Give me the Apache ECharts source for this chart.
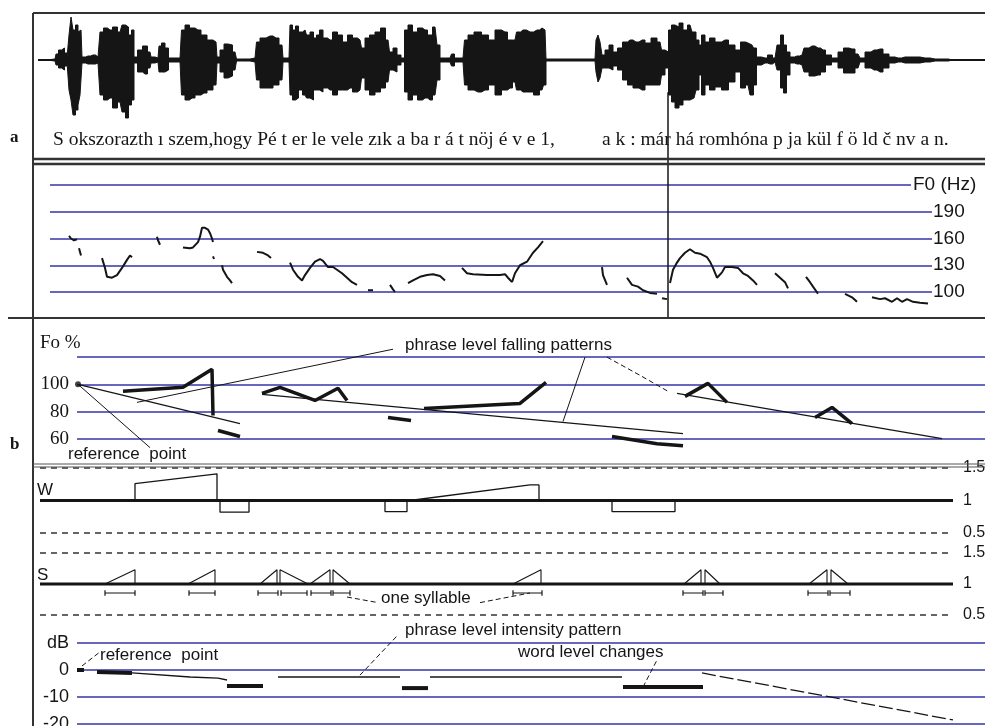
<!DOCTYPE html>
<html>
<head>
<meta charset="utf-8">
<script src="https://cdn.jsdelivr.net/npm/echarts@6/dist/echarts.min.js"></script>
<style>
html, body { margin: 0; padding: 0; background: #fff; }
#chart { width: 985px; height: 726px; }
</style>
</head>
<body>
<div id="chart"></div>
<script>
// time axis is in arbitrary units along the utterance (same scale for every panel)

// waveform envelope: [time, upper amplitude, lower amplitude]
var waveEnvelope = [
  [38,0,0],[55,1,1],[57,6,5],[60,10,8],[63,12,10],[66,7,6],[68,2,2],[70,25,30],[72,43,40],[74,30,55],
  [77,35,50],[79,28,45],[81,30,35],[83,3,3],[88,4,4],[93,5,4],[98,3,3],[102,28,35],[105,32,40],[110,30,38],
  [115,33,48],[120,28,42],[124,35,52],[127,33,58],[130,25,45],[133,30,40],[135,3,3],[140,10,12],[145,14,14],[150,8,8],
  [152,3,3],[158,2,2],[160,14,12],[163,17,12],[167,12,10],[170,2,2],[180,2,2],[183,30,35],[187,35,40],[192,32,38],
  [198,30,35],[204,25,33],[210,20,30],[216,18,25],[218,3,3],[222,10,12],[226,16,18],[230,15,16],[235,8,10],[238,1,1],
  [245,1,1],[255,2,2],[258,18,20],[262,22,28],[270,24,28],[276,22,25],[282,15,20],[284,2,2],[289,2,2],[291,35,35],
  [294,30,40],[297,34,38],[300,28,30],[305,30,35],[308,25,38],[312,28,40],[315,22,30],[318,25,30],[321,30,32],[325,22,28],
  [330,20,30],[335,28,35],[340,25,30],[345,18,30],[350,25,28],[355,22,32],[360,20,30],[363,12,18],[367,22,30],[372,25,35],
  [378,28,32],[383,32,28],[388,20,22],[391,8,10],[395,12,12],[399,5,5],[403,2,2],[406,30,32],[410,35,40],[415,28,35],
  [420,32,40],[425,30,38],[430,25,40],[435,33,35],[439,15,20],[441,2,2],[450,2,2],[453,6,6],[456,2,2],[463,2,2],
  [466,20,25],[470,25,30],[478,28,32],[485,25,30],[492,20,25],[498,30,35],[505,28,30],[510,20,28],[515,20,22],[518,28,30],
  [523,30,32],[530,28,32],[537,30,35],[542,32,30],[545,30,25],[547,1,1],[595,1,1],[597,20,12],[599,25,22],[601,18,18],
  [603,5,8],[607,10,8],[611,15,10],[615,8,6],[620,12,10],[625,18,20],[630,20,25],[636,18,28],[642,20,30],[648,17,25],
  [654,22,25],[660,18,25],[663,10,15],[667,8,8],[670,30,35],[673,35,42],[677,33,48],[681,37,45],[685,30,40],[690,35,40],
  [694,28,38],[698,20,30],[700,15,15],[703,25,35],[707,18,25],[712,22,30],[718,18,27],[725,20,30],[732,15,22],[738,10,12],
  [743,18,28],[748,17,25],[752,15,35],[755,12,25],[758,3,5],[765,2,3],[770,5,4],[775,2,2],[779,15,10],[782,25,28],
  [785,15,33],[788,8,15],[792,3,3],[797,4,4],[802,5,5],[806,12,12],[812,14,16],[818,12,15],[823,10,12],[828,5,5],
  [835,2,2],[841,8,8],[846,12,13],[852,11,13],[858,6,8],[862,2,2],[868,8,8],[874,10,10],[880,11,12],[886,6,8],
  [892,3,3],[898,2,2],[905,3,3],[915,3,3],[925,2,2],[935,1,1],[945,1,1],[952,0,0],[985,0,0]
];

var transcript1 = 'S okszorazth ı szem,hogy Pé t er le vele zık a ba r á t nöj é v e 1,';
var transcript2 = 'a k : már há romhóna p ja kül f ö ld č nv a n.';

// F0 contour (Hz), voiced stretches
var f0Ticks = [100, 130, 160, 190, 220];
var f0Segments = [
  [[69,163],[71,160],[74,158],[77,159]],
  [[79,149],[81,141]],
  [[102,138],[105,127],[107,117],[112,116],[117,119],[122,127],[127,136],[130,141],[132,139]],
  [[157,162],[158,158],[160,153]],
  [[183,150],[190,149],[193,150],[198,156],[200,162],[202,172],[205,172],[208,170],[210,166],[212,160],[213,156]],
  [[213,140],[214,137]],
  [[222,130],[223,125],[227,117],[230,113],[232,110]],
  [[257,145],[263,144],[268,141],[271,138]],
  [[290,133],[293,125],[298,117],[302,113],[305,119],[310,127],[315,134],[320,137],[323,135],[328,128],[333,128],[337,125],[342,121],[347,116],[352,111],[357,108]],
  [[368,102],[373,102]],
  [[390,108],[393,103],[395,100]],
  [[408,110],[413,113],[420,117],[427,119],[433,120],[440,118],[445,113]],
  [[462,127],[467,121],[473,120],[487,119],[500,119],[505,120],[508,116],[512,111]],
  [[512,111],[515,121],[520,130],[527,134],[533,144],[538,150],[543,157]],
  [[602,128],[603,119],[607,108]],
  [[627,116],[632,108],[638,106],[643,102],[650,99],[657,98]],
  [[662,93],[667,92]],
  [[670,110],[673,125],[677,133],[680,138],[685,144],[690,148],[695,144],[700,143],[707,139],[710,134],[713,127],[717,116],[722,122],[725,128],[732,128],[738,127],[743,121],[748,118],[753,113],[757,108]],
  [[775,121],[780,116],[785,111],[788,104]],
  [[806,117],[810,111],[813,106],[818,98]],
  [[845,98],[852,94],[857,89]],
  [[872,94],[880,92],[885,93],[892,89],[897,93],[902,89],[907,92],[913,89],[920,88],[928,87]]
];
var f0Arrows = [[222, 71, 111], [392, 71, 94], [651, 71, 91]];
var boundary = [[668, 324], [668, 71]];

// Fo % panel
var foTicks = [60, 80, 100, 120];
var foReference = [78, 100];
var foWordLevel = [
  [[123,94.9],[183,97.8],[212,111],[213,77.2]],
  [[218,66.2],[240,61.8]],
  [[262,93.4],[280,97.8],[315,88.2],[338,97.1],[347,88.2]],
  [[388,75.7],[411,73.5]],
  [[424,82.4],[500,85.3],[520,86],[546,101.5]],
  [[612,61.8],[657,56.6],[683,55.1]],
  [[685,91.2],[708,100.7],[727,86.8]],
  [[815,75.7],[832,83.1],[852,71.3]]
];
var foPhraseLevel = [
  [[78,100],[240,71.3]],
  [[262,92.6],[683,64]],
  [[677,93.4],[942,60.3]]
];
var foLeaders = [
  [[78,100],[150,53.7]],
  [[137,86.8],[393,125.7]],
  [[585,119.9],[563,72.8]],
  [[607,119.9],[640,106.6],[668,94.9]]
];

// W (word) and S (syllable) weight panels
var weightTicks = [0.5, 1, 1.5];
var wShapes = [
  [[135,1],[135,1.26],[217,1.41],[217,1]],
  [[220,1],[220,0.82],[249,0.82],[249,1]],
  [[385,1],[385,0.83],[407,0.83],[407,1]],
  [[410,1],[412,1.03],[530,1.24],[539,1.24],[539,1]],
  [[612,1],[612,0.83],[675,0.83],[675,1]]
];
var sRises = [[105,135],[188,215],[260,277],[310,330],[513,541],[684,701],[809,827]];
var sFalls = [[280,308],[333,350],[705,720],[831,848]];
var sPeak = 1.23;
var syllables = [[105,135],[189,215],[258,278],[281,307],[311,331],[333,350],[513,542],[683,703],[705,723],[808,828],[830,850]];
var sLeaders = [
  [[347,0.79],[378,0.7]],
  [[480,0.7],[530,0.855]]
];

// dB panel
var dbTicks = [-20, -10, 0, 10];
var dbWordLevel = [
  [[77,0],[84,0]],
  [[97,-0.7],[132,-1.1]],
  [[227,-5.9],[263,-5.9]],
  [[402,-6.7],[428,-6.7]],
  [[623,-6.3],[703,-6.3]]
];
var dbPhraseLevel = [
  [[132,-1.1],[190,-2.6],[218,-3.0],[227,-3.7]],
  [[278,-2.6],[400,-2.6]],
  [[430,-2.6],[622,-2.6]],
  [[702,-1.1],[953,-18.5]]
];
var dbLeaders = [
  [[82,1.5],[100,6.7]],
  [[360,-1.9],[398,13]],
  [[643,-6.3],[657,3.7]]
];

var BLUE = '#3535a8';
var INK = '#151515';
var SANS = '"Liberation Sans", Arial, sans-serif';
var SERIF = '"Liberation Serif", "Times New Roman", serif';

var myChart = echarts.init(document.getElementById('chart'));

// panel layout (x range, vertical extent, y scale)
var panels = [
  { x0: 38, x1: 985, top: 13,  bottom: 120, min: -60, max: 47 },
  { x0: 50, x1: 932, top: 185, bottom: 292, min: 100, max: 220, interval: 30 },
  { x0: 77, x1: 985, top: 357, bottom: 439, min: 60,  max: 120, interval: 20 },
  { x0: 40, x1: 953, top: 468, bottom: 533, min: 0.5, max: 1.5, interval: 0.5 },
  { x0: 40, x1: 953, top: 553, bottom: 615, min: 0.5, max: 1.5, interval: 0.5 },
  { x0: 77, x1: 985, top: 643, bottom: 724, min: -20, max: 10,  interval: 10 }
];

var grids = panels.map(function (p) {
  return { left: p.x0, top: p.top, width: p.x1 - p.x0, height: p.bottom - p.top, outerBoundsMode: 'none' };
});
var xAxes = panels.map(function (p, i) {
  return { type: 'value', gridIndex: i, min: p.x0, max: p.x1, show: false };
});

function labelStyle(font, size, margin, formatter) {
  return { show: true, margin: margin, fontFamily: font, fontSize: size, color: INK, formatter: formatter };
}
var noLine = { show: false };
var yAxes = [
  { type: 'value', gridIndex: 0, min: -60, max: 47, show: false },
  { type: 'value', gridIndex: 1, min: 100, max: 220, interval: 30, position: 'right',
    axisLine: noLine, axisTick: noLine,
    splitLine: { lineStyle: { color: BLUE, width: 1.5 } },
    axisLabel: labelStyle(SANS, 19, 1, function (v) { return v === f0Ticks[4] ? '' : String(v); }) },
  { type: 'value', gridIndex: 2, min: 60, max: 120, interval: 20, position: 'left',
    axisLine: noLine, axisTick: noLine,
    splitLine: { lineStyle: { color: BLUE, width: 1.5 } },
    axisLabel: labelStyle(SERIF, 19, 8, function (v) { return v === foTicks[3] ? '' : String(v); }) },
  { type: 'value', gridIndex: 3, min: 0.5, max: 1.5, interval: 0.5, position: 'right',
    axisLine: noLine, axisTick: noLine,
    splitLine: { lineStyle: { color: '#333', width: 1.5, type: [6, 5] } },
    axisLabel: labelStyle(SANS, 16, 10, function (v) { return String(v); }) },
  { type: 'value', gridIndex: 4, min: 0.5, max: 1.5, interval: 0.5, position: 'right',
    axisLine: noLine, axisTick: noLine,
    splitLine: { lineStyle: { color: '#333', width: 1.5, type: [6, 5] } },
    axisLabel: labelStyle(SANS, 16, 10, function (v) { return String(v); }) },
  { type: 'value', gridIndex: 5, min: -20, max: 10, interval: 10, position: 'left',
    axisLine: noLine, axisTick: noLine,
    splitLine: { lineStyle: { color: BLUE, width: 1.5 } },
    axisLabel: labelStyle(SANS, 18, 8, function (v) { return v === dbTicks[3] ? 'dB' : String(v); }) }
];

var series = [];

function poly(idx, pts, width, color, type) {
  series.push({
    type: 'line', xAxisIndex: idx, yAxisIndex: idx, data: pts,
    symbol: 'none', silent: true, clip: false, z: 3,
    lineStyle: { width: width, color: color || INK, type: type || 'solid', cap: 'butt' }
  });
}

// waveform (stepped envelope, like the sampled display)
series.push({
  type: 'line', xAxisIndex: 0, yAxisIndex: 0, symbol: 'none', silent: true, z: 3, step: 'middle',
  data: waveEnvelope.map(function (d) { return [d[0], d[1]]; }),
  lineStyle: { width: 1, color: INK }, areaStyle: { color: INK, opacity: 1 }
});
series.push({
  type: 'line', xAxisIndex: 0, yAxisIndex: 0, symbol: 'none', silent: true, z: 3, step: 'middle',
  data: waveEnvelope.map(function (d) { return [d[0], -d[2]]; }),
  lineStyle: { width: 1, color: INK }, areaStyle: { color: INK, opacity: 1 }
});
poly(0, [[38, 0], [985, 0]], 2, INK);

// F0 track
f0Segments.forEach(function (s) { poly(1, s, 2, INK, 'solid'); });
poly(1, boundary, 1.5, INK);
series.push({
  type: 'line', xAxisIndex: 1, yAxisIndex: 1, data: [], clip: false, silent: true,
  markLine: {
    silent: true, symbol: ['none', 'arrow'], symbolSize: [7, 10],
    label: { show: false }, lineStyle: { color: INK, width: 1, type: 'solid' },
    data: f0Arrows.map(function (a) { return [{ coord: [a[0], a[1]] }, { coord: [a[0], a[2]] }]; })
  }
});

// Fo % panel
foPhraseLevel.forEach(function (s) { poly(2, s, 1.2, INK); });
foLeaders.forEach(function (s, i) { poly(2, s, 1, INK, i === 3 ? [5, 3] : 'solid'); });
foWordLevel.forEach(function (s) { poly(2, s, 3.5, INK); });
series.push({
  type: 'scatter', xAxisIndex: 2, yAxisIndex: 2, data: [foReference], symbolSize: 6,
  itemStyle: { color: INK }, silent: true, z: 4
});

// W panel
poly(3, [[40, 1], [953, 1]], 3, INK);
wShapes.forEach(function (s) { poly(3, s, 1.3, INK); });

// S panel
poly(4, [[40, 1], [953, 1]], 3, INK);
sRises.forEach(function (r) { poly(4, [[r[0], 1], [r[1], sPeak], [r[1], 1]], 1.1, INK); });
sFalls.forEach(function (r) { poly(4, [[r[0], 1], [r[0], sPeak], [r[1], 1]], 1.1, INK); });
syllables.forEach(function (r) {
  poly(4, [[r[0], 0.9], [r[0], 0.81], [r[0], 0.855], [r[1], 0.855], [r[1], 0.9], [r[1], 0.81]], 1.2, INK);
});
sLeaders.forEach(function (s) { poly(4, s, 1, INK, [5, 3]); });

// dB panel
dbPhraseLevel.forEach(function (s, i) { poly(5, s, 1.3, INK, i === 3 ? [14, 4] : 'solid'); });
dbLeaders.forEach(function (s) { poly(5, s, 1, INK, [5, 3]); });
dbWordLevel.forEach(function (s) { poly(5, s, 4, INK); });

function hline(x1, x2, y, w, c) {
  return { type: 'line', silent: true, z: 50, shape: { x1: x1, y1: y, x2: x2, y2: y }, style: { stroke: c || '#333', lineWidth: w } };
}
function txt(x, y, s, font, size, weight, bg) {
  return { type: 'text', silent: true, z: 60, x: x, y: y,
    style: { text: s, fill: INK, font: (weight || 'normal') + ' ' + size + 'px ' + font,
             verticalAlign: 'middle', align: 'left', backgroundColor: bg || 'transparent', padding: bg ? [0, 2, 0, 2] : 0 } };
}

var option = {
  animation: false,
  backgroundColor: '#fff',
  grid: grids,
  xAxis: xAxes,
  yAxis: yAxes,
  series: series,
  graphic: [
    // frame
    { type: 'line', silent: true, z: 50, shape: { x1: 33, y1: 13, x2: 33, y2: 726 }, style: { stroke: '#333', lineWidth: 2 } },
    hline(33, 985, 13, 2),
    hline(33, 985, 159, 2.5),
    hline(33, 985, 164, 2.5),
    hline(8, 985, 318, 2),
    hline(33, 985, 464, 1.2, '#555'),
    hline(33, 985, 467, 1.2, '#555'),
    // panel letters and transcript
    txt(10, 138, 'a', SERIF, 17, 'bold'),
    txt(10, 445, 'b', SERIF, 17, 'bold'),
    txt(53, 140, transcript1, SERIF, 19.5),
    txt(602, 140, transcript2, SERIF, 19.5),
    // axis titles
    txt(911, 185, 'F0 (Hz)', SANS, 19, 'normal', '#fff'),
    txt(40, 343, 'Fo %', SERIF, 19),
    txt(37, 490, 'W', SANS, 17),
    txt(37, 575, 'S', SANS, 17),
    // annotations
    txt(405, 345, 'phrase level falling patterns', SANS, 17),
    txt(68, 454, 'reference  point', SANS, 17),
    txt(381, 598, 'one syllable', SANS, 17),
    txt(405, 630, 'phrase level intensity pattern', SANS, 17),
    txt(100, 655, 'reference  point', SANS, 17),
    txt(518, 652, 'word level changes', SANS, 17)
  ]
};

myChart.setOption(option);
</script>
</body>
</html>
